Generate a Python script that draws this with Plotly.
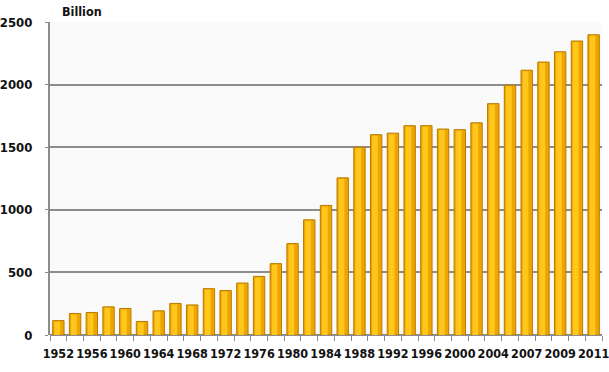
import plotly.graph_objects as go

years = [1952, 1954, 1956, 1958, 1960, 1962, 1964, 1966, 1968, 1970, 1972, 1974,
         1976, 1978, 1980, 1982, 1984, 1986, 1988, 1990, 1992, 1994, 1996, 1998,
         2000, 2002, 2004, 2006, 2007, 2008, 2009, 2010, 2011]
values = [115, 172, 180, 225, 212, 108, 193, 252, 240, 370, 355, 415,
          468, 570, 730, 920, 1035, 1255, 1500, 1600, 1612, 1672, 1672, 1645,
          1640, 1695, 1848, 1995, 2115, 2180, 2262, 2348, 2398]
tick_years = [1952, 1956, 1960, 1964, 1968, 1972, 1976, 1980, 1984, 1988, 1992,
              1996, 2000, 2004, 2007, 2009, 2011]
y_ticks = [0, 500, 1000, 1500, 2000, 2500]
unit_label = "Billion"

cats = [str(y) for y in years]
tick_text = ["<b>%d</b>" % y if y in tick_years else "" for y in years]
font = "DejaVu Sans Condensed, DejaVu Sans, sans-serif"

fig = go.Figure()
fig.add_trace(go.Bar(
    x=cats, y=values, width=0.68,
    marker=dict(color="#EFA500", line=dict(color="#B97A00", width=1)),
    hoverinfo="skip",
))
fig.add_trace(go.Bar(
    x=cats, y=[v - 8 for v in values], width=0.34, offset=-0.24,
    marker=dict(color="#FFC61C", line=dict(width=0)),
    hoverinfo="skip",
))
fig.update_layout(
    width=609, height=372,
    margin=dict(l=50, r=7, t=22, b=37),
    paper_bgcolor="#ffffff", plot_bgcolor="#fafafa",
    showlegend=False, barmode="overlay",
    font=dict(family=font, size=12, color="#111111"),
    annotations=[dict(text="<b>" + unit_label + "</b>", xref="paper", yref="paper",
                      x=0.018, y=1.0, xanchor="left", yanchor="bottom", showarrow=False,
                      font=dict(family=font, size=12.5, color="#111111"), yshift=1)],
)
fig.update_xaxes(
    type="category", range=[-0.5, len(cats) - 0.5], automargin=False,
    tickmode="array", tickvals=cats, ticktext=tick_text, tickangle=0,
    tickson="boundaries",
    ticks="outside", ticklen=5, tickcolor="#8c8c8c", showgrid=False,
    showline=False, ticklabelstandoff=9,
    tickfont=dict(family=font, size=12.5, color="#111111"),
)
fig.update_yaxes(
    range=[0, 2500], tickmode="array", tickvals=y_ticks, automargin=False,
    ticktext=["<b>%d</b>" % v for v in y_ticks],
    showgrid=True, gridcolor="#8c8c8c", gridwidth=2,
    zeroline=True, zerolinecolor="#8c8c8c", zerolinewidth=2,
    showline=True, linecolor="#8c8c8c", linewidth=2,
    ticks="outside", ticklen=3, tickcolor="#8c8c8c", ticklabelstandoff=10,
    tickfont=dict(family=font, size=13, color="#111111"),
)
fig.write_html("out.html", config={"displayModeBar": False},
               post_script="document.body.style.margin='0';")
